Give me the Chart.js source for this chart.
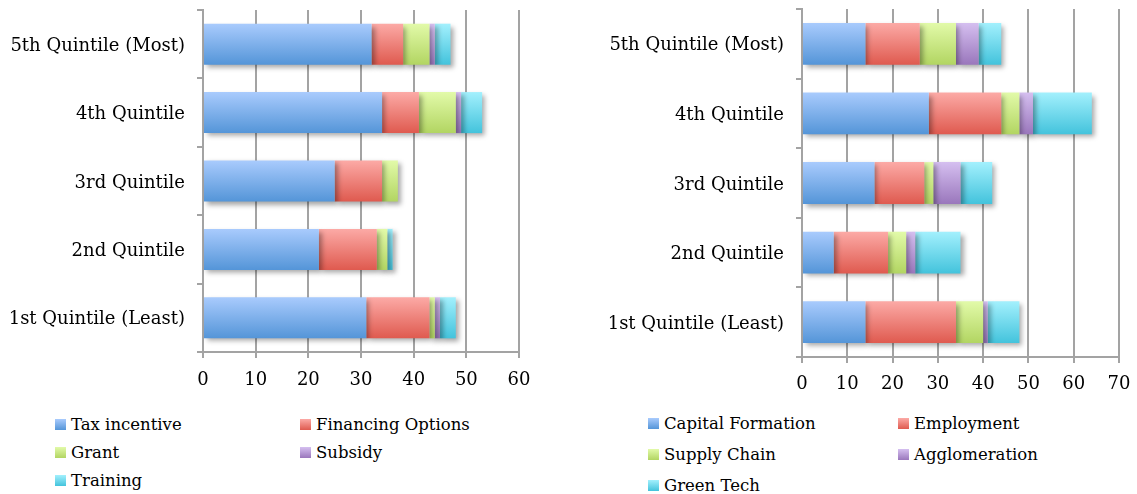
<!DOCTYPE html>
<html>
<head>
<meta charset="utf-8">
<script src="https://cdn.jsdelivr.net/npm/chart.js@4/dist/chart.umd.min.js"></script>
<style>
  body { margin: 0; background: #fff; width: 1137px; height: 494px; position: relative; overflow: hidden; }
  .box { position: absolute; }
  .legend { position: absolute; font-family: "DejaVu Serif", serif; font-size: 16.5px; color: #000; }
  .item { position: absolute; white-space: nowrap; line-height: 20px; }
  .sw { display: inline-block; width: 11px; height: 11px; margin-right: 5px; vertical-align: 0px; }
</style>
</head>
<body>
<div class="box" style="left:0;top:0;width:560px;height:400px"><canvas id="left"></canvas></div>
<div class="box" style="left:568px;top:0;width:569px;height:400px"><canvas id="right"></canvas></div>
<div class="legend" id="legLeft"></div>
<div class="legend" id="legRight"></div>
<script>
// categories (top to bottom)
const quintiles = ['5th Quintile (Most)', '4th Quintile', '3rd Quintile', '2nd Quintile', '1st Quintile (Least)'];

// left chart series
const taxIncentive     = [32, 34, 25, 22, 31];
const financingOptions = [6, 7, 9, 11, 12];
const grant            = [5, 7, 3, 2, 1];
const subsidy          = [1, 1, 0, 0, 1];
const training         = [3, 4, 0, 1, 3];

// right chart series
const capitalFormation = [14, 28, 16, 7, 14];
const employment       = [12, 16, 11, 12, 20];
const supplyChain      = [8, 4, 2, 4, 6];
const agglomeration    = [5, 3, 6, 2, 1];
const greenTech        = [5, 13, 7, 10, 7];

const leftTicks = [0, 10, 20, 30, 40, 50, 60];
const rightTicks = [0, 10, 20, 30, 40, 50, 60, 70];

const colors = {
  blue:   ['#a9cbfd', '#5495d8'],
  red:    ['#fcaaa6', '#df5a4f'],
  green:  ['#e2faa9', '#b2d562'],
  purple: ['#d5bff0', '#9a77bc'],
  cyan:   ['#a3f0fd', '#43c3dc']
};

const FONT = { family: 'DejaVu Serif', size: 18 };

function grad(pair) {
  return (c) => {
    const chart = c.chart;
    const y = chart.scales && chart.scales.y;
    if (!y || c.type !== 'data' || !isFinite(y.top)) return pair[1];
    const cy = y.getPixelForValue(c.dataIndex);
    const h = (y.bottom - y.top) / quintiles.length * 0.6 / 2;
    const g = chart.ctx.createLinearGradient(0, cy - h, 0, cy + h);
    g.addColorStop(0, pair[0]);
    g.addColorStop(1, pair[1]);
    return g;
  };
}

// soft drop shadow behind the bars
const shadowPlugin = {
  id: 'barShadow',
  beforeDatasetsDraw(chart) {
    const ctx = chart.ctx;
    ctx.save();
    ctx.shadowColor = 'rgba(0,0,0,0.35)';
    ctx.shadowBlur = 5;
    ctx.shadowOffsetX = 3;
    ctx.shadowOffsetY = 3;
  },
  afterDatasetsDraw(chart) {
    chart.ctx.restore();
  }
};

function makeChart(id, names, series, ticks, geo) {
  const keys = ['blue', 'red', 'green', 'purple', 'cyan'];
  const ctx = document.getElementById(id).getContext('2d');
  return new Chart(ctx, {
    type: 'bar',
    data: {
      labels: quintiles,
      datasets: series.map((d, i) => ({
        label: names[i],
        data: d,
        backgroundColor: grad(colors[keys[i]]),
        borderWidth: 0,
        barPercentage: 0.6,
        categoryPercentage: 1
      }))
    },
    options: {
      indexAxis: 'y',
      responsive: true,
      maintainAspectRatio: false,
      animation: false,
      layout: { padding: { left: 0, right: geo.right, top: geo.top, bottom: 0 } },
      plugins: { legend: { display: false }, tooltip: { enabled: false } },
      scales: {
        x: {
          stacked: true,
          min: 0,
          max: ticks[ticks.length - 1],
          afterBuildTicks: (s) => { s.ticks = ticks.map(v => ({ value: v })); },
          afterFit: (s) => { s.height = geo.xHeight; s.paddingLeft = 0; s.paddingRight = 0; },
          grid: { color: '#a3a3a3', lineWidth: 2, tickLength: 6, drawTicks: true },
          border: { color: '#a3a3a3', width: 2 },
          ticks: { color: '#000', font: FONT, padding: geo.xPad, maxRotation: 0 }
        },
        y: {
          stacked: true,
          afterFit: (s) => { s.width = geo.yWidth; s.paddingTop = 0; s.paddingBottom = 0; },
          grid: { drawOnChartArea: false, color: '#a3a3a3', lineWidth: 2, tickLength: 6 },
          border: { color: '#a3a3a3', width: 2 },
          ticks: { color: '#000', font: FONT, padding: 12, labelOffset: 2 }
        }
      }
    },
    plugins: [shadowPlugin]
  });
}

const leftNames = ['Tax incentive', 'Financing Options', 'Grant', 'Subsidy', 'Training'];
const rightNames = ['Capital Formation', 'Employment', 'Supply Chain', 'Agglomeration', 'Green Tech'];

const leftChart = makeChart('left', leftNames,
  [taxIncentive, financingOptions, grant, subsidy, training], leftTicks,
  { yWidth: 203, right: 41, top: 10, xHeight: 48, xPad: 12 });
const rightChart = makeChart('right', rightNames,
  [capitalFormation, employment, supplyChain, agglomeration, greenTech], rightTicks,
  { yWidth: 234, right: 18, top: 9, xHeight: 43, xPad: 11 });

function buildLegend(elId, chart, pos) {
  const el = document.getElementById(elId);
  const keys = ['blue', 'red', 'green', 'purple', 'cyan'];
  chart.data.datasets.forEach((ds, i) => {
    const col = i % 2, row = Math.floor(i / 2);
    const it = document.createElement('div');
    it.className = 'item';
    it.style.left = pos.cols[col] + 'px';
    it.style.top = (pos.top + row * pos.rowH) + 'px';
    const sw = document.createElement('span');
    sw.className = 'sw';
    const c = colors[keys[i]];
    sw.style.background = 'linear-gradient(' + c[0] + ',' + c[1] + ')';
    it.appendChild(sw);
    it.appendChild(document.createTextNode(ds.label));
    el.appendChild(it);
  });
}
buildLegend('legLeft', leftChart, { cols: [55, 300], top: 415, rowH: 28 });
buildLegend('legRight', rightChart, { cols: [648, 898], top: 414, rowH: 31 });
</script>
</body>
</html>
